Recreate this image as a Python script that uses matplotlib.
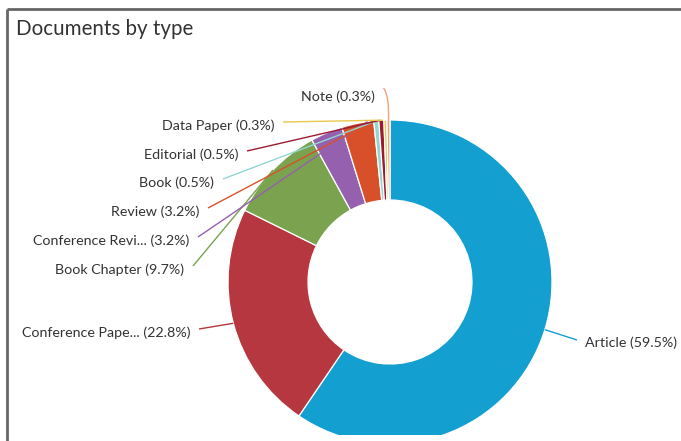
import numpy as np
import matplotlib
matplotlib.use("Agg")
import matplotlib.pyplot as plt
from matplotlib.patches import PathPatch
from matplotlib.path import Path

# ---- data ----
categories = ["Article", "Conference Paper", "Book Chapter", "Conference Review",
              "Review", "Book", "Editorial", "Data Paper", "Note"]
label_names = ["Article", "Conference Pape...", "Book Chapter", "Conference Revi...",
               "Review", "Book", "Editorial", "Data Paper", "Note"]
shares = [59.5, 22.8, 9.7, 3.2, 3.2, 0.5, 0.5, 0.3, 0.3]

# ---- style / layout ----
colors = ["#149fd1", "#b6373f", "#7aa24f", "#9561ae", "#d8502a",
          "#93d6d0", "#9b1b30", "#e9c74c", "#f2a07a"]
W, H = 681, 441
BOTTOM = 435
CX, CY, R, RIN = 390, 282, 162, 82
# label anchor (x, y in pixels from top-left), alignment
label_pos = [(585, 343, "left"), (190, 333, "right"), (184, 270, "right"),
             (189, 241, "right"), (199, 212, "right"), (214, 183, "right"),
             (238, 155, "right"), (274, 126, "right"), (375, 97, "right")]
# connector target angle (deg clockwise from top); None -> slice mid angle
target_deg = [None, None, None, 352.0, 354.0, 355.5, 356.5, 357.5, None]

fig = plt.figure(figsize=(W / 100, H / 100), dpi=100)
# axes spans pixel rows 0..BOTTOM from top, so the donut is clipped at BOTTOM
ax = fig.add_axes([0, (H - BOTTOM) / H, 1, BOTTOM / H])

def Y(y):
    return H - y

wedges, _ = ax.pie(shares, colors=colors, startangle=90, counterclock=False,
                   radius=R, center=(CX, Y(CY)),
                   wedgeprops=dict(width=R - RIN, edgecolor="white", linewidth=0.9))
for w in wedges:
    w.set_clip_on(True)
    w.set_clip_path(ax.patch)
ax.set_xlim(0, W)
ax.set_ylim(H - BOTTOM, H)
ax.set_aspect("auto")
ax.axis("off")

cum = np.cumsum([0] + shares[:-1])
mids = (cum + np.array(shares) / 2) / 100 * 360
txt_kw = dict(fontsize=10.3, color="#333333", family=["Lato", "DejaVu Sans"], va="center")
for i, (name, s) in enumerate(zip(label_names, shares)):
    lx, ly, ha = label_pos[i]
    ax.text(lx, Y(ly), f"{name} ({s}%)", ha=ha, **txt_kw)
    ang = mids[i] if target_deg[i] is None else target_deg[i]
    a = np.deg2rad(ang)
    tx, ty = CX + R * np.sin(a), CY - R * np.cos(a)
    if name == "Note":
        verts = [(tx, Y(ty + 1)), (tx + 1, Y(95)), (tx - 5, Y(88))]
        p = Path(verts, [Path.MOVETO, Path.CURVE3, Path.CURVE3])
        ax.add_patch(PathPatch(p, fill=False, edgecolor=colors[i], lw=1, zorder=3))
        continue
    if ha == "left":
        sx, sy = lx - 8, ly - 3
    else:
        sx, sy = lx + 9, ly - 4
    ax.plot([sx, tx], [Y(sy), Y(ty)], color=colors[i], lw=1, zorder=3,
            solid_capstyle="butt")

# title and frame
ax.text(16, Y(29), "Documents by type", fontsize=14.8, color="#333333",
        family=["Lato", "DejaVu Sans"], va="center", ha="left")
ax.plot([7, W], [Y(8.5), Y(8.5)], color="#666666", lw=2, solid_capstyle="butt",
        clip_on=False)
ax.plot([7, 7], [Y(8.5), -10], color="#666666", lw=2, solid_capstyle="butt",
        clip_on=False)

fig.savefig("out.png", dpi=100)
